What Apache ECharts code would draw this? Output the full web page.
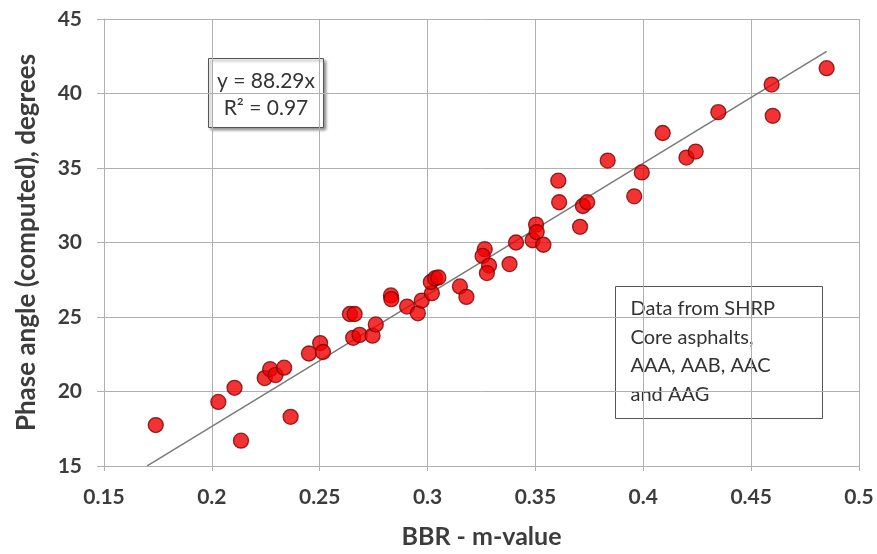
<!DOCTYPE html>
<html>
<head>
<meta charset="utf-8">
<script src="https://cdn.jsdelivr.net/npm/echarts@6/dist/echarts.min.js"></script>
<style>html,body{margin:0;padding:0;background:#fff}#c{width:877px;height:554px}</style>
</head>
<body>
<div id="c"></div>
<script>
const mValues = [0.174,0.203,0.2105,0.2135,0.2365,0.2245,0.227,0.2295,0.2335,0.245,0.2502,0.2515,
  0.264,0.2662,0.2655,0.2685,0.2745,0.276,0.283,0.2832,0.2905,0.2955,0.2973,0.302,0.3015,0.3035,0.305,
  0.315,0.318,0.3265,0.3255,0.3285,0.3275,0.338,0.341,0.3487,0.3503,0.3506,0.3537,0.3606,0.361,0.372,0.374,
  0.3707,0.3835,0.3993,0.3958,0.409,0.420,0.4243,0.4348,0.4595,0.460,0.485];
const phaseAngles = [17.75,19.3,20.25,16.7,18.3,20.9,21.5,21.1,21.6,22.55,23.25,22.65,
  25.2,25.2,23.6,23.8,23.75,24.5,26.45,26.2,25.7,25.25,26.1,26.6,27.35,27.6,27.65,
  27.05,26.35,29.55,29.1,28.45,27.95,28.55,30.0,30.15,31.2,30.7,29.85,34.15,32.7,32.45,32.7,
  31.05,35.5,34.7,33.1,37.35,35.7,36.1,38.75,40.6,38.5,41.7];
const trendSlope = 88.29;
const trendRange = [0.17, 0.485];
const xTicks = [0.15, 0.5, 0.05];
const yTicks = [15, 45, 5];
const eqText = ['y = 88.29x', 'R\u00b2 = 0.97'];
const noteText = ['Data from SHRP', 'Core asphalts,', 'AAA, AAB, AAC', 'and AAG'];

const pts = mValues.map((x, i) => [x, phaseAngles[i]]);
const trend = trendRange.map(x => [x, trendSlope * x]);

const chart = echarts.init(document.getElementById('c'), null, {renderer: 'canvas'});
const txtColor = '#3c3c3c';
const font = 'Lato, "Open Sans", sans-serif';
chart.setOption({
  animation: false,
  backgroundColor: '#fff',
  grid: {left: 104, right: 18, top: 19, bottom: 86, show: false},
  xAxis: {
    type: 'value', min: xTicks[0], max: xTicks[1], interval: xTicks[2],
    name: 'BBR - m-value', nameLocation: 'middle', nameGap: 58,
    nameTextStyle: {fontFamily: font, fontWeight: 'bold', fontSize: 25, color: txtColor},
    axisLine: {show: true, lineStyle: {color: '#b0b0b0', width: 1}},
    axisTick: {show: true, length: 5, lineStyle: {color: '#b0b0b0'}},
    axisLabel: {fontFamily: font, fontWeight: 'bold', fontSize: 21, color: txtColor, margin: 21,
      formatter: v => String(+v.toFixed(2))},
    splitLine: {show: true, lineStyle: {color: '#b0b0b0', width: 1}}
  },
  yAxis: {
    type: 'value', min: yTicks[0], max: yTicks[1], interval: yTicks[2],
    name: 'Phase angle (computed), degrees', nameLocation: 'middle', nameGap: 64,
    nameTextStyle: {fontFamily: font, fontWeight: 'bold', fontSize: 26, color: txtColor},
    axisLine: {show: true, lineStyle: {color: '#b0b0b0', width: 1}},
    axisTick: {show: true, length: 7, lineStyle: {color: '#b0b0b0'}},
    axisLabel: {fontFamily: font, fontWeight: 'bold', fontSize: 21, color: txtColor, margin: 22},
    splitLine: {show: true, lineStyle: {color: '#b0b0b0', width: 1}}
  },
  series: [
    {
      type: 'line', data: trend, showSymbol: false, symbol: 'none',
      lineStyle: {color: '#7a7a7a', width: 1.5}, z: 2
    },
    {
      type: 'scatter', data: pts, symbol: 'circle', symbolSize: 15,
      itemStyle: {color: '#f00000', borderColor: '#7a0000', borderWidth: 1.3}, z: 3
    }
  ],
  graphic: [
    {
      type: 'group', left: 208, top: 58, z: 10,
      children: [
        {type: 'rect', shape: {x: 0, y: 0, width: 115, height: 69},
          style: {fill: '#fff', stroke: '#555', lineWidth: 1,
            shadowBlur: 3, shadowOffsetX: 2, shadowOffsetY: 2, shadowColor: 'rgba(0,0,0,0.45)'}},
        {type: 'text', x: 57.5, y: 9, style: {text: eqText.join('\n'), fill: '#333',
          font: '21px ' + font, align: 'center', lineHeight: 27}}
      ]
    },
    {
      type: 'group', left: 615, top: 286, z: 10,
      children: [
        {type: 'rect', shape: {x: 0, y: 0, width: 207, height: 132},
          style: {fill: '#fff', stroke: '#555', lineWidth: 1}},
        {type: 'text', x: 15, y: 8, style: {text: noteText.join('\n'), fill: '#333',
          font: '20px ' + font, align: 'left', lineHeight: 28.5}}
      ]
    }
  ]
});
</script>
</body>
</html>
